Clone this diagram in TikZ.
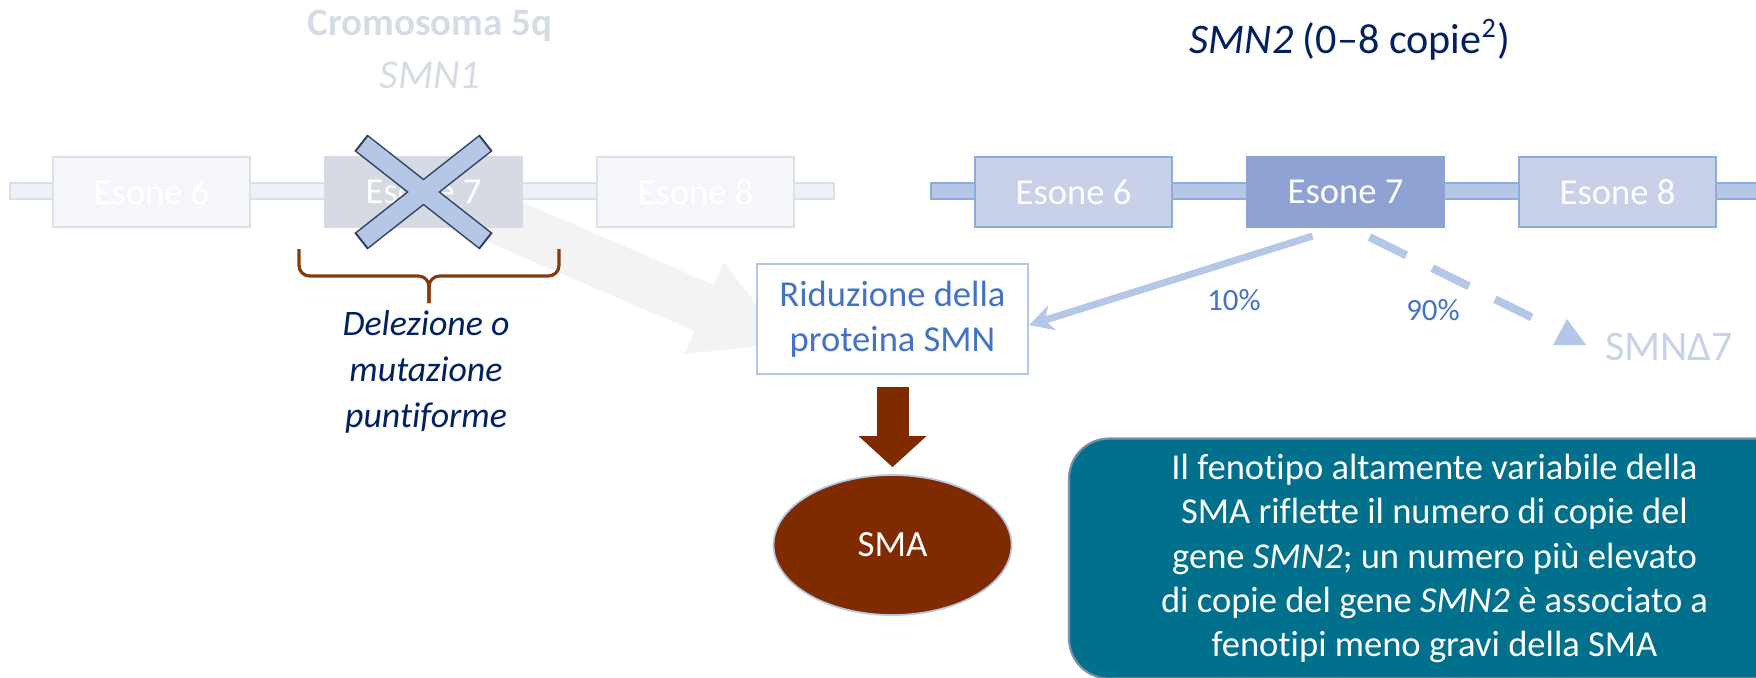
\documentclass[tikz,border=0pt]{standalone}
\usepackage{fontspec}
\setmainfont{Carlito}[Ligatures=NoCommon]
\usetikzlibrary{shapes.geometric, arrows.meta, calc, backgrounds}

\definecolor{barold}{RGB}{238,241,247}
\definecolor{barolddraw}{RGB}{218,223,234}
\definecolor{exold}{RGB}{244,246,251}
\definecolor{exolddraw}{RGB}{220,225,236}
\definecolor{exoldkey}{RGB}{214,218,227}
\definecolor{barfill}{RGB}{180,199,231}
\definecolor{bardraw}{RGB}{143,170,220}
\definecolor{exfill}{RGB}{201,208,234}
\definecolor{exkey}{RGB}{143,162,212}
\definecolor{textblue}{RGB}{68,114,196}
\definecolor{navy}{RGB}{0,32,96}
\definecolor{titlegray}{RGB}{214,220,229}
\definecolor{lightblue}{RGB}{180,199,231}
\definecolor{fadedblue}{RGB}{200,210,235}
\definecolor{smabrown}{RGB}{128,42,0}
\definecolor{bracebrown}{RGB}{132,60,12}
\definecolor{teal}{RGB}{0,112,140}
\definecolor{tealdraw}{RGB}{127,143,169}
\definecolor{grayarrow}{RGB}{243,243,243}
\definecolor{crossdraw}{RGB}{47,64,100}

\tikzstyle{exon} = [rectangle, 
minimum width=1.97cm, 
minimum height=0.70cm, 
inner sep=0pt,
text=white,
font=\fontsize{10.4}{12}\selectfont,
line width=0.6pt,
draw=bardraw, 
fill=exfill]
\tikzstyle{exonkey} = [exon, draw=exkey, fill=exkey]
\tikzstyle{exonold} = [exon, draw=exolddraw, fill=exold]
\tikzstyle{exonoldkey} = [exon, draw=exoldkey, fill=exoldkey]
\tikzstyle{genebar} = [rectangle, 
minimum height=0.16cm, 
inner sep=0pt, 
line width=0.6pt,
draw=bardraw, 
fill=barfill]
\tikzstyle{genebarold} = [genebar, draw=barolddraw, fill=barold]
\tikzstyle{protbox} = [rectangle, 
minimum width=2.71cm, 
minimum height=1.10cm, 
align=center, 
line width=0.7pt,
draw=lightblue, 
fill=white, 
text=textblue,
font=\fontsize{10.4}{12.8}\selectfont]
\tikzstyle{smaoval} = [ellipse, 
minimum width=2.38cm, 
minimum height=1.40cm, 
inner sep=0pt,
line width=0.5pt,
draw=lightblue, 
fill=smabrown, 
text=white,
font=\fontsize{10.5}{12}\selectfont]
\tikzstyle{notebox} = [rectangle, rounded corners=0.4cm,
minimum width=7.31cm, 
minimum height=2.40cm, 
align=center, % righe spezzate a mano
line width=0.6pt,
draw=tealdraw, 
fill=teal, 
text=white,
font=\fontsize{10.4}{12.6}\selectfont]
\tikzstyle{pct} = [text=textblue, font=\fontsize{8.8}{10}\selectfont]
\tikzstyle{splicearrow} = [line width=2pt, lightblue, ->, >={Stealth[length=2.4mm, width=2.6mm]}]
\tikzstyle{skipline} = [line width=2.3pt, lightblue, dash pattern=on 4.1mm off 2.9mm]
\tikzstyle{bigarrow} = [line width=5mm, grayarrow, -{Triangle[length=9.1mm, width=9.3mm]}]
\tikzstyle{downarrow} = [line width=3.2mm, smabrown, -{Triangle[length=3.1mm, width=6.6mm]}]
\tikzstyle{crossedge} = [line width=2.1mm, crossdraw, shorten >=-0.6pt, shorten <=-0.6pt]
\tikzstyle{crossarm} = [line width=1.8mm, lightblue]
\tikzstyle{bracepath} = [line width=0.9pt, bracebrown, rounded corners=3pt]

\begin{document}
\begin{tikzpicture}[node distance=2.72cm]
\useasboundingbox (0,0) rectangle (17.56,-6.77);

% SMN1
\node (ttl1) [anchor=base, text=titlegray, font=\fontsize{11.1}{13}\selectfont\bfseries] at (4.30,-0.35) {Cromosoma 5q};
\node (gene1) [anchor=base, text=titlegray, font=\fontsize{11.7}{13}\selectfont\itshape] at (4.30,-0.88) {SMN1};
\node (lbar) [genebarold, minimum width=8.24cm] at (4.22,-1.91) {};
\node (l6) [exonold] at (1.515,-1.92) {Esone 6};
\node (l7) [exonoldkey, right of=l6] {Esone 7};
\node (l8) [exonold, right of=l7] {Esone 8};

% croce sull'esone 7
\coordinate (xa) at ($(l7)+(-0.61,0.48)$);
\coordinate (xb) at ($(l7)+(0.61,-0.48)$);
\coordinate (xc) at ($(l7)+(-0.61,-0.48)$);
\coordinate (xd) at ($(l7)+(0.61,0.48)$);
\draw [crossedge] (xa) -- (xb);
\draw [crossedge] (xc) -- (xd);
\draw [crossarm] (xa) -- (xb);
\draw [crossarm] (xc) -- (xd);

% graffa
\coordinate (bl) at (2.99,-2.49);
\coordinate (br) at (5.59,-2.49);
\coordinate (bt) at (4.29,-3.03);
\draw [bracepath] (bl) |- ($(bt)+(0,0.27)$) -- (bt);
\draw [bracepath] (br) |- ($(bt)+(0,0.27)$) -- (bt);
\node (del) [align=center, text=navy, font=\fontsize{10.2}{13.2}\selectfont\itshape] at (4.26,-3.72) {Delezione o\\mutazione\\puntiforme};

% SMN2
\node (ttl2) [anchor=base, text=navy, font=\fontsize{12}{14}\selectfont] at (13.50,-0.53) {\textit{SMN2} (0–8 copie\textsuperscript{2})};
\node (rbar) [genebar, minimum width=8.45cm] at (13.535,-1.91) {};
\node (r6) [exon] at (10.735,-1.92) {Esone 6};
\node (r7) [exonkey, right of=r6] {Esone 7};
\node (r8) [exon, right of=r7] {Esone 8};

% proteina e SMA
\node (rid) [protbox] at (8.925,-3.19) {Riduzione della\\proteina SMN};
\node (sma) [smaoval, below of=rid, yshift=0.46cm] {SMA};
\draw [downarrow] ($(rid.south)+(0,-0.12)$) -- ($(sma.north)+(0,0.07)$);

\begin{scope}[on background layer]
\draw [bigarrow] ($(l7.south east)+(-0.32,0.12)$) -- ($(rid.west)+(0.32,-0.25)$);
\end{scope}

% splicing
\draw [splicearrow] ($(r7.south)+(-0.33,-0.08)$) -- ($(rid.east)+(0,-0.06)$);
\coordinate (dend) at (15.33,-3.18);
\draw [skipline] ($(r7.south)+(0.24,-0.09)$) -- (dend);
\fill [lightblue] ($(dend)+(0.34,-0.01)$) -- ($(dend)+(0.53,-0.27)$) -- ($(dend)+(0.20,-0.27)$) -- cycle;
\node (smnd) [text=fadedblue, font=\fontsize{12}{14}\selectfont] at (16.69,-3.47) {SMNΔ7};
\node (p10) [pct] at (12.34,-3.00) {10\%};
\node (p90) [pct] at (14.33,-3.10) {90\%};

% nota
\node (note) [notebox] at (14.345,-5.585) {Il fenotipo altamente variabile della\\
SMA riflette il numero di copie del\\
gene \textit{SMN2}; un numero più elevato\\
di copie del gene \textit{SMN2} è associato a\\
fenotipi meno gravi della SMA};

\end{tikzpicture}
\end{document}
